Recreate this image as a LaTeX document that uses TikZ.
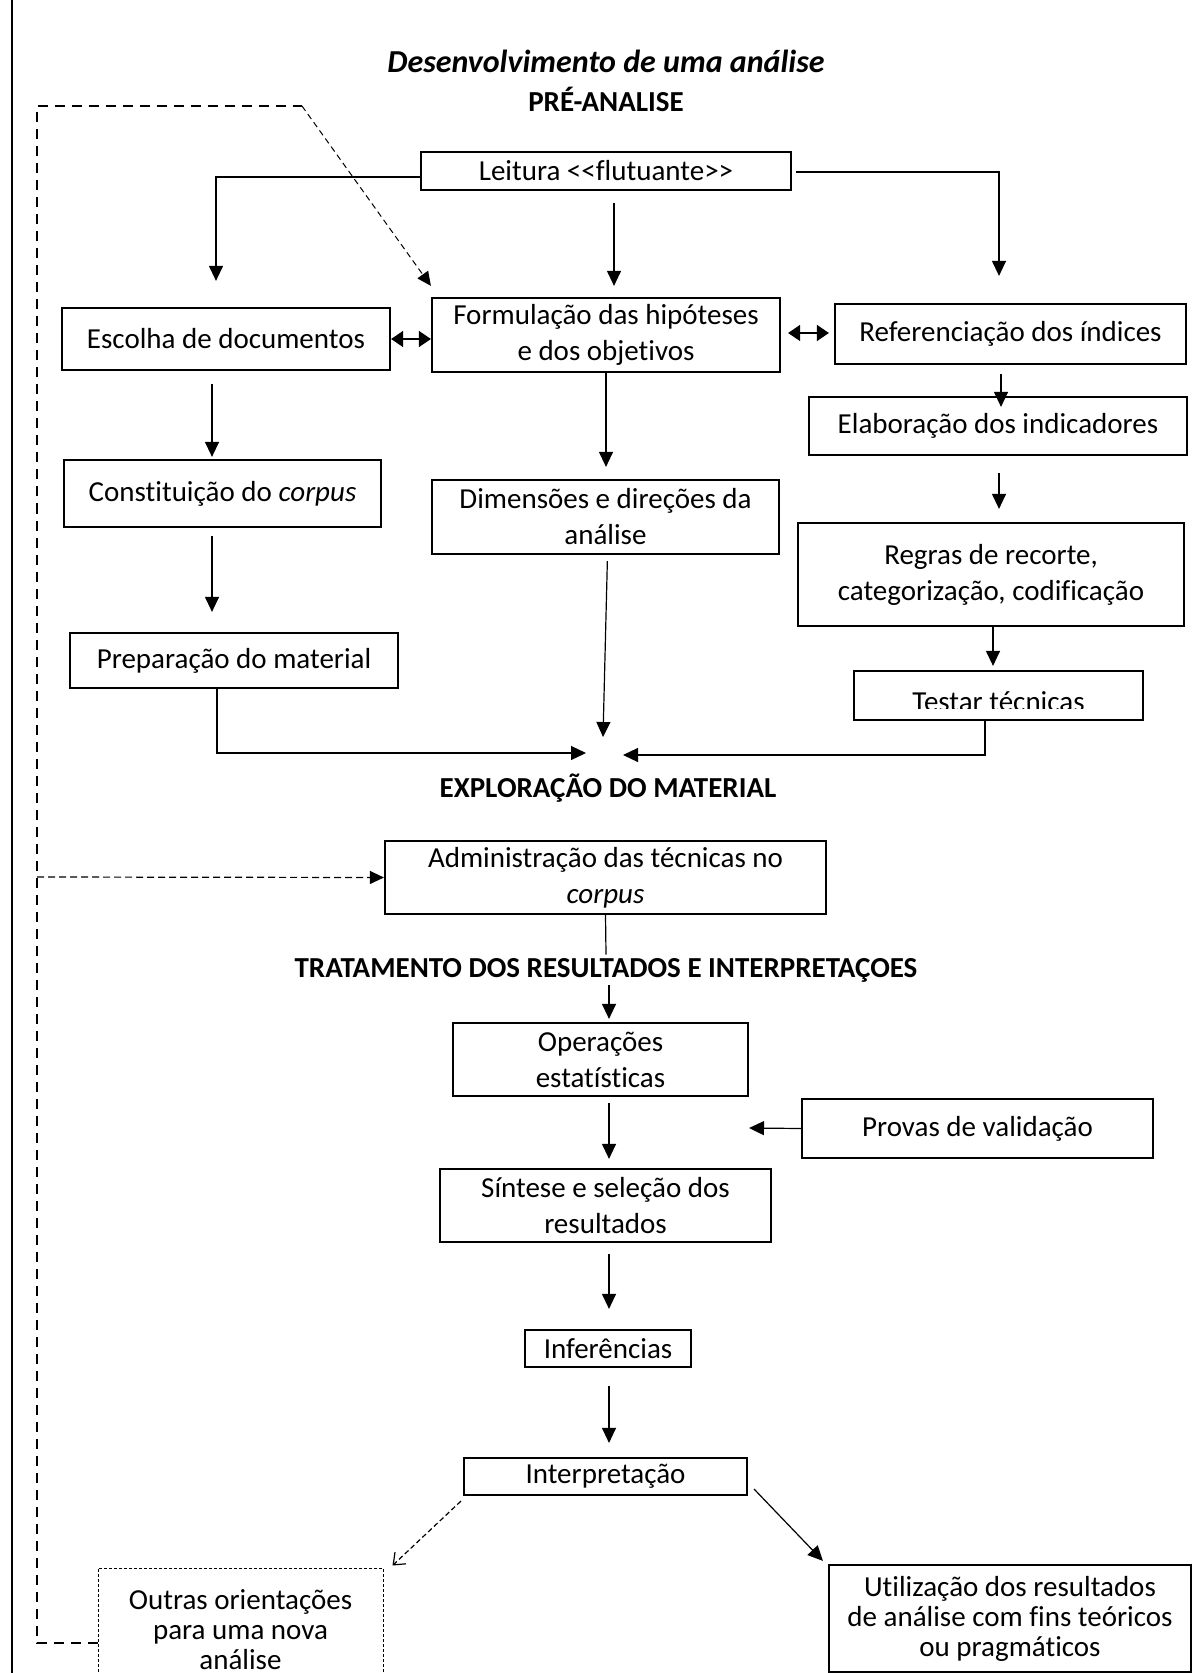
\documentclass[tikz,border=0pt]{standalone}
\usepackage{fontspec}
\setmainfont{Carlito}[Ligatures={TeX,NoCommon}]
\usetikzlibrary{arrows.meta,calc}
\begin{document}
\begin{tikzpicture}[x=0.5pt,y=-0.5pt,
  every node/.style={font=\fontsize{14.5}{18}\selectfont},
  box/.style={draw,line width=1.1pt,inner sep=0pt,align=center},
  dotbox/.style={draw,line width=0.5pt,dash pattern=on 1.5pt off 1pt,inner sep=0pt,align=center,font=\fontsize{14.5}{15}\selectfont},
  tight/.style={font=\fontsize{14.5}{15}\selectfont},
  sz/.style 2 args={minimum width=#1*0.5pt,minimum height=#2*0.5pt},
  arr/.style={line width=0.6pt,-{Triangle[length=7.5pt,width=7pt]}},
  dbl/.style={line width=0.7pt,{Triangle[length=6pt,width=8pt]}-{Triangle[length=6pt,width=8pt]}},
  head/.style={font=\fontsize{14.5}{18}\selectfont\bfseries,inner xsep=2pt,inner ysep=1.5pt},
  loopdash/.style={line width=0.6pt,dash pattern=on 5pt off 3.5pt},
  diagdash/.style={line width=0.5pt,dash pattern=on 3pt off 2pt},
  admdash/.style={line width=0.6pt,dash pattern=on 3.5pt off 2pt},
  fdash/.style={line width=0.6pt,dash pattern=on 2.5pt off 1.5pt}
]
\useasboundingbox (0,0) rectangle (1201,1673);

% left page border
\draw[line width=1pt] (11.5,0) -- (11.5,1673);

% headings
\node[font=\fontsize{16}{19}\selectfont\bfseries\itshape] (title) at (606,61) {Desenvolvimento de uma análise};
\node[head] (pre) at (606,99) {PRÉ-ANALISE};
\node[head] (explo) at (608,788) {EXPLORAÇÃO DO MATERIAL};
\node[head] (trat) at (606,970) {TRATAMENTO DOS RESULTADOS E INTERPRETAÇOES};

% boxes
\node[box,sz={370}{38}] (leit) at (606,171) {Leitura <{}<flutuante>{}>};
\node[box,sz={328}{62}] (esc) at (226,339) {Escolha de documentos};
\node[box,sz={348}{74}] (form) at (606,335) {Formulação das hipóteses\\e dos objetivos};
\node[box,sz={351}{60}] (ref) at (1010.5,334) {Referenciação dos índices};
\node[box,sz={378}{58}] (elab) at (998,426) {Elaboração dos indicadores};
\node[box,sz={317}{67}] (const) at (222.5,493.5) {Constituição do \textit{corpus}};
\node[box,sz={347}{74}] (dim) at (605.5,517) {Dimensões e direções da\\análise};
\node[box,sz={386}{103}] (regras) at (991,574.5) {Regras de recorte,\\categorização, codificação};
\node[box,sz={328}{55}] (prep) at (234,660.5) {Preparação do material};
\node[box,sz={289}{49}] (testar) at (998.5,695.5) {};
\begin{scope}
  \clip (854,650) rectangle (1143,708);
  \node[anchor=base,inner sep=0pt] (testxt) at (998.5,711) {Testar técnicas};
\end{scope}
\node[box,sz={441}{73}] (admin) at (605.5,877.5) {Administração das técnicas no\\\textit{corpus}};
\node[box,sz={295}{73}] (oper) at (600.5,1059.5) {Operações\\estatísticas};
\node[box,sz={351}{59}] (provas) at (977.5,1128.5) {Provas de validação};
\node[box,sz={331}{73}] (sint) at (605.5,1205.5) {Síntese e seleção dos\\resultados};
\node[box,sz={166}{37}] (infer) at (608,1348.5) {Inferências};
\node[box,sz={283}{37}] (interp) at (605.5,1476.5) {Interpretação};
\node[dotbox,sz={285}{124}] (outras) at (240.5,1630) {Outras orientações\\para uma nova\\análise};
\node[box,tight,sz={362}{107}] (util) at (1010,1618.5) {Utilização dos resultados\\de análise com fins teóricos\\ou pragmáticos};

% free ends
\coordinate (lpA) at (37,106);
\coordinate (lpB) at (302,106);
\coordinate (lpC) at (37,877);
\coordinate (tgtL) at (586,753);
\coordinate (tgtM) at (603,737);
\coordinate (tgtR) at (623,755);
\coordinate (tgtP) at (749,1128);

% pre-analysis connectors
\draw[arr,shorten >=13pt] ([yshift=-3pt]leit.west) -| ([xshift=-5pt]esc.north);
\draw[arr,shorten <=6pt,shorten >=5.5pt] ([xshift=4pt]leit.south) -- ([xshift=4pt]form.north);
\draw[arr,shorten <=2pt,shorten >=13.5pt] ([yshift=-0.5pt]leit.east) -| ([xshift=-5.75pt]ref.north);
\draw[dbl] (esc.east) -- (esc.east -| form.west);
\draw[dbl,shorten <=3.5pt,shorten >=2.5pt] ([yshift=1pt]form.east) -- ([yshift=1pt]form.east -| ref.west);
\draw[arr,shorten <=4.5pt] ([xshift=-4.75pt]ref.south) -- ([xshift=1.5pt,yshift=-5.5pt]elab.north);
\draw[arr,shorten <=8.5pt,shorten >=6.5pt] ([xshift=0.5pt]elab.south) -- ([xshift=4pt]regras.north);
\draw[arr,shorten >=2pt] ([xshift=1pt]regras.south) -- ([xshift=-2.75pt]testar.north);
\draw[arr] ([xshift=-6.75pt]testar.south) |- (tgtR);
\draw[arr] ([xshift=-8.5pt]prep.south) |- (tgtL);
\draw[arr,shorten >=6pt] (form.south) -- (form.south |- dim.north);
\draw[arr,shorten <=3pt] ([xshift=1pt]dim.south) -- (tgtM);
\draw[arr,shorten <=6.5pt,shorten >=1pt] ([xshift=-7pt]esc.south) -- ([xshift=-5.25pt]const.north);
\draw[arr,shorten <=4pt,shorten >=10pt] ([xshift=-5.25pt]const.south) -- ([xshift=-11pt]prep.north);

% exploration / treatment connectors
\draw[line width=0.6pt] (admin.south) -- (trat.north);
\draw[arr,shorten >=1.5pt] ([xshift=1.5pt]trat.south) -- ([xshift=1.5pt]trat.south |- oper.north);
\draw[arr,shorten <=3pt,shorten >=4.5pt] ([xshift=4.25pt]oper.south) -- ([xshift=4.25pt]oper.south |- sint.north);
\draw[arr] (provas.west) -- (tgtP);
\draw[arr,shorten <=5.5pt,shorten >=10pt] ([xshift=1.75pt]sint.south) -- ([xshift=0.5pt]infer.north);
\draw[arr,shorten <=9pt,shorten >=7pt] ([xshift=0.5pt]infer.south) -- ([xshift=1.75pt]interp.north);
\draw[arr] ([xshift=3pt,yshift=3.5pt]interp.south east) -- ([xshift=-2.5pt,yshift=1.5pt]util.north west);
\draw[fdash,-{Straight Barb[length=5pt,width=8pt]}] ([xshift=-1pt,yshift=-2.5pt]interp.south west) -- ([xshift=4.5pt,yshift=1pt]outras.north east);

% feedback loop
\draw[loopdash] ([yshift=-6.5pt]outras.west) -| (lpA) -- (lpB);
\draw[diagdash,-{Triangle[length=7pt,width=6.5pt]}] (lpB) -- ([yshift=5.5pt]form.north west);
\draw[admdash,-{Triangle[length=7pt,width=6.5pt]}] (lpC) -- (admin.west);
\end{tikzpicture}
\end{document}
